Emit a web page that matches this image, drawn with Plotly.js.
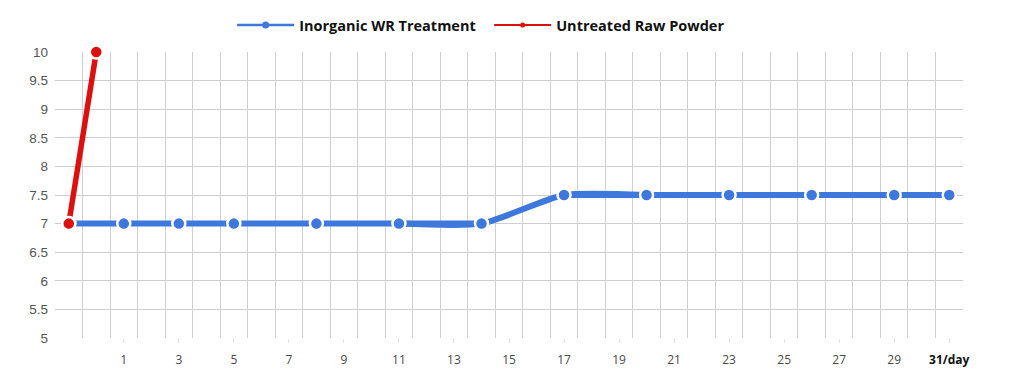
<!DOCTYPE html>
<html>
<head>
<meta charset="utf-8">
<script src="https://cdn.plot.ly/plotly-3.0.1.min.js"></script>
<style>html,body{margin:0;padding:0;background:#fff;}#chart{width:1024px;height:391px;}</style>
</head>
<body>
<div id="chart"></div>
<script>
const treatedDays = [-1, 1, 3, 5, 8, 11, 14, 17, 20, 23, 26, 29, 31];
const treatedValues = [7, 7, 7, 7, 7, 7, 7, 7.5, 7.5, 7.5, 7.5, 7.5, 7.5];
const rawDays = [-1, 0];
const rawValues = [7, 10];
const tickDays = [1, 3, 5, 7, 9, 11, 13, 15, 17, 19, 21, 23, 25, 27, 29, 31];
const tickLabels = ["1","3","5","7","9","11","13","15","17","19","21","23","25","27","29","31/day"];
const seriesNames = ["Inorganic WR Treatment", "Untreated Raw Powder"];

const blue = "#3f78dc";
const red = "#dd1010";

const lineStyle = {color: blue, width: 6};
const traces = [
  // smoothed transition (drawn under the flat runs)
  {
    x: treatedDays.slice(5, 9), y: treatedValues.slice(5, 9), type: "scatter", mode: "lines",
    line: {color: blue, width: 6, shape: "spline", smoothing: 0.6},
    showlegend: false, cliponaxis: false
  },
  {
    x: treatedDays.slice(0, 7), y: treatedValues.slice(0, 7), type: "scatter", mode: "lines",
    line: lineStyle, showlegend: false, cliponaxis: false
  },
  {
    x: treatedDays.slice(7), y: treatedValues.slice(7), type: "scatter", mode: "lines",
    line: lineStyle, showlegend: false, cliponaxis: false
  },
  {
    x: treatedDays, y: treatedValues, type: "scatter", mode: "markers",
    marker: {color: blue, size: 13, line: {color: "#ffffff", width: 2.5}},
    showlegend: false, cliponaxis: false
  },
  {
    x: rawDays, y: rawValues, type: "scatter", mode: "lines+markers",
    line: {color: red, width: 5.5},
    marker: {color: red, size: 13, line: {color: "#ffffff", width: 2.5}},
    showlegend: false, cliponaxis: false
  },
  {
    x: [null], y: [null], type: "scatter", mode: "lines+markers", name: seriesNames[0],
    line: {color: blue, width: 2.5}, marker: {color: blue, size: 7}
  },
  {
    x: [null], y: [null], type: "scatter", mode: "lines+markers", name: seriesNames[1],
    line: {color: red, width: 2}, marker: {color: red, size: 5}
  }
];

const layout = {
  width: 1024, height: 391,
  margin: {l: 55, r: 61, t: 52, b: 53},
  paper_bgcolor: "#ffffff", plot_bgcolor: "#ffffff",
  font: {family: "Open Sans, Liberation Sans, sans-serif", color: "#555"},
  showlegend: true,
  legend: {
    orientation: "h", x: 0.1951, xanchor: "left",
    yref: "container", y: 0.936, yanchor: "middle",
    font: {family: "Open Sans, sans-serif", size: 14.5, color: "#111", weight: "bold"},
    itemwidth: 57, entrywidth: 185, traceorder: "normal"
  },
  xaxis: {
    range: [-1.5, 31.5], showgrid: false, zeroline: false,
    tickmode: "array", tickvals: tickDays,
    ticktext: tickLabels.map((t, i) => i === tickLabels.length - 1 ? "<b><span style='color:#111'>" + t + "</span></b>" : t),
    tickfont: {family: "Open Sans, sans-serif", size: 12, color: "#4a4a4a"},
    ticks: "outside", ticklen: 4, tickcolor: "#e2e2e2", tickwidth: 1,
    ticklabelstandoff: 7, showline: false,
    minor: {tick0: -1.5, dtick: 1, showgrid: true, gridcolor: "#d0d0d0", gridwidth: 1, ticks: ""},
    fixedrange: true
  },
  yaxis: {
    range: [5, 10], dtick: 0.5, tick0: 5, showgrid: true, gridcolor: "#cfcfcf", gridwidth: 1,
    zeroline: false, showline: false, ticks: "",
    tickfont: {family: "Liberation Sans, Arial, sans-serif", size: 13.5, color: "#555"},
    ticklabelstandoff: 6,
    fixedrange: true
  }
};

Plotly.newPlot("chart", traces, layout, {displayModeBar: false, staticPlot: true});
</script>
</body>
</html>
